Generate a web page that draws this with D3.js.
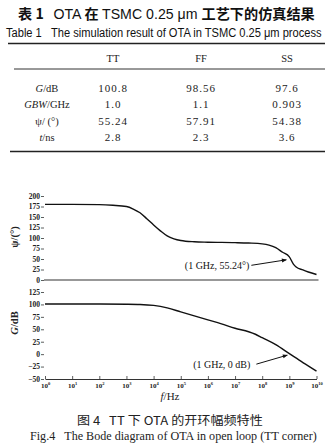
<!DOCTYPE html>
<html><head><meta charset="utf-8">
<script src="https://cdn.jsdelivr.net/npm/d3@7"></script>
<style>body{margin:0;background:#fff}svg{display:block}</style>
</head><body><svg id="c" width="330" height="444"></svg>
<script>
// ---------- data ----------
const tableColumns = ["TT", "FF", "SS"];
const rowGain = ["100.8", "98.56", "97.6"];
const rowGBW = ["1.0", "1.1", "0.903"];
const rowPhase = ["55.24", "57.91", "54.38"];
const rowTime = ["2.8", "2.3", "3.6"];

const phaseFreq = [1e0, 1e1, 1e2, 3.16e2, 1e3, 1.78e3, 3.16e3, 5.62e3, 1e4, 1.78e4, 3.16e4, 5.62e4, 1e5, 3.16e5, 1e6, 1e7, 3.16e7, 1e8, 1.78e8, 3.16e8, 5.62e8, 1e9, 1.41e9, 1.78e9, 3.16e9, 5.01e9, 1e10];
const phaseDeg  = [180, 180, 179.5, 178, 175, 169, 160, 146, 131, 117, 105, 98, 94, 91, 90, 89, 88, 86, 83, 77, 66, 55.24, 38, 31, 24, 19, 13];

const gainFreq = [1e0, 1e1, 1e2, 1e3, 3.16e3, 1e4, 3.16e4, 1e5, 3.16e5, 1e6, 3.16e6, 1e7, 3.16e7, 5.62e7, 1e8, 3.16e8, 1e9, 3.16e9, 1e10];
const gainDb   = [100.8, 100.8, 100.8, 100.5, 100, 98, 93, 85, 77, 69, 61, 52, 45, 40, 33, 19, 1, -17, -34];

const freqTicks = [1e0, 1e1, 1e2, 1e3, 1e4, 1e5, 1e6, 1e7, 1e8, 1e9, 1e10];
const phaseTicks = [0, 25, 50, 75, 100, 125, 150, 175, 200];
const gainTicks = [-50, -25, 0, 25, 50, 75, 100, 125];

const phaseNote = {f: 1e9, v: 55.24, label: "(1 GHz, 55.24°)"};
const gainNote = {f: 1e9, v: 0, label: "(1 GHz, 0 dB)"};

// ---------- drawing ----------
const svg = d3.select("#c");
const serif = "'Liberation Serif','DejaVu Serif',serif";
const sans = "'Liberation Sans Narrow','Liberation Sans',Arial,sans-serif";
const cjk = "'Noto Sans CJK SC',sans-serif";

// squeeze/stretch a text horizontally so it spans [x0, x0+w]
function fitText(sel, x0, w) {
  const nat = sel.node().getComputedTextLength();
  const k = nat > 0 ? w / nat : 1;
  sel.attr("x", 0).attr("transform", `translate(${x0},0) scale(${k},1)`);
}

// Title lines
const t1 = svg.append("text").attr("y", 19).attr("font-size", 14)
  .attr("font-weight", "bold").attr("fill", "#111");
t1.append("tspan").attr("font-family", cjk).text("表 1\u00a0\u00a0\u00a0");
t1.append("tspan").attr("font-family", sans).attr("font-weight", "normal").text("OTA ");
t1.append("tspan").attr("font-family", cjk).text("在 ");
t1.append("tspan").attr("font-family", sans).attr("font-weight", "normal").text("TSMC 0.25 μm ");
t1.append("tspan").attr("font-family", cjk).text("工艺下的仿真结果");
fitText(t1, 18, 297);

const t2 = svg.append("text").attr("y", 37).attr("font-size", 12)
  .attr("font-family", sans).attr("fill", "#111")
  .text("Table 1\u00a0\u00a0\u00a0The simulation result of OTA in TSMC 0.25 μm process");
fitText(t2, 6, 316);

// Table rules
svg.append("line").attr("x1", 8).attr("x2", 325).attr("y1", 43.5).attr("y2", 43.5).attr("stroke", "#222").attr("stroke-width", 1.6);
svg.append("line").attr("x1", 14).attr("x2", 325).attr("y1", 69).attr("y2", 69).attr("stroke", "#333").attr("stroke-width", 1);
svg.append("line").attr("x1", 10).attr("x2", 325).attr("y1", 151.5).attr("y2", 151.5).attr("stroke", "#222").attr("stroke-width", 1.6);

const colX = [113, 201, 287];
const labelX = 47;
svg.selectAll("text.hdr").data(tableColumns).join("text").attr("class", "hdr")
  .attr("x", (d, i) => colX[i]).attr("y", 62).attr("text-anchor", "middle")
  .attr("font-family", serif).attr("font-size", 10.5).attr("fill", "#222").text(d => d);

const rows = [
  {label: [["G", true], ["/dB", false]], vals: rowGain},
  {label: [["GBW", true], ["/GHz", false]], vals: rowGBW},
  {label: [["ψ/ (°)", false]], vals: rowPhase},
  {label: [["t", true], ["/ns", false]], vals: rowTime}
];
const rowY = [91.5, 108, 124.5, 141];
rows.forEach((r, ri) => {
  const lt = svg.append("text").attr("x", labelX).attr("y", rowY[ri]).attr("text-anchor", "middle")
    .attr("font-family", serif).attr("font-size", 10.5).attr("fill", "#222");
  r.label.forEach(([s, it]) => lt.append("tspan").attr("font-style", it ? "italic" : "normal").text(s));
  r.vals.forEach((v, ci) => {
    svg.append("text").attr("x", colX[ci]).attr("y", rowY[ri]).attr("text-anchor", "middle")
      .attr("font-family", serif).attr("font-size", 11).attr("letter-spacing", 1).attr("fill", "#222").text(v);
  });
});

// Scales
const x = d3.scaleLog().domain([1, 1e10]).range([45, 316.5]);
const yP = d3.scaleLinear().domain([0, 200]).range([280, 196]);
const yG = d3.scaleLinear().domain([-50, 125]).range([379, 292]);

function styleAxis(g) {
  g.select(".domain").remove();
  g.selectAll(".tick line").attr("stroke", "#333").attr("stroke-width", 0.8);
  g.selectAll(".tick text").attr("font-family", serif).attr("font-size", 7.5).attr("font-weight", "bold").attr("fill", "#222");
}

// Phase y axis
svg.append("g").attr("transform", `translate(${x(1) - 1},0)`)
  .call(d3.axisLeft(yP).tickValues(phaseTicks).tickSize(3).tickSizeOuter(0).tickPadding(1).tickFormat(d3.format("d")))
  .call(styleAxis);
// Phase baseline (0 line)
svg.append("line").attr("x1", x(1) - 1).attr("x2", x(1e10) + 2).attr("y1", yP(0)).attr("y2", yP(0))
  .attr("stroke", "#333").attr("stroke-width", 1.2);

// Gain y axis
svg.append("g").attr("transform", `translate(${x(1) - 1},0)`)
  .call(d3.axisLeft(yG).tickValues(gainTicks).tickSize(3).tickSizeOuter(0).tickPadding(1).tickFormat(d3.format("d")))
  .call(styleAxis);

// Frequency axis
const xa = svg.append("g").attr("transform", `translate(0,${yG(-50)})`)
  .call(d3.axisBottom(x).tickValues(freqTicks).tickSize(-3).tickSizeOuter(0).tickPadding(4).tickFormat(() => ""));
xa.select(".domain").attr("stroke", "#333").attr("stroke-width", 1);
xa.selectAll(".tick line").attr("stroke", "#333").attr("stroke-width", 0.8);
xa.selectAll(".tick text").each(function(d) {
  const t = d3.select(this).attr("font-family", serif).attr("font-size", 7).attr("font-weight", "bold").attr("fill", "#222");
  t.append("tspan").text("10");
  t.append("tspan").attr("font-size", 4.5).attr("dy", -3).text(Math.round(Math.log10(d)));
});

// Curves
const linePhase = d3.line().x((d, i) => x(phaseFreq[i])).y(d => yP(d)).curve(d3.curveMonotoneX);
svg.append("path").attr("d", linePhase(phaseDeg)).attr("fill", "none").attr("stroke", "#111").attr("stroke-width", 1.4);
const lineGain = d3.line().x((d, i) => x(gainFreq[i])).y(d => yG(d)).curve(d3.curveMonotoneX);
svg.append("path").attr("d", lineGain(gainDb)).attr("fill", "none").attr("stroke", "#111").attr("stroke-width", 1.4);

// Axis titles
const pl = svg.append("text").attr("transform", "translate(18,237) rotate(-90)").attr("text-anchor", "middle")
  .attr("font-family", serif).attr("font-size", 10.5).attr("font-weight", "bold").attr("fill", "#222");
pl.append("tspan").text("ψ/(°)");
const gl = svg.append("text").attr("transform", "translate(18,323) rotate(-90)").attr("text-anchor", "middle")
  .attr("font-family", serif).attr("font-size", 10.5).attr("font-weight", "bold").attr("fill", "#222");
gl.append("tspan").attr("font-style", "italic").text("G");
gl.append("tspan").text("/dB");
const fl = svg.append("text").attr("x", 170).attr("y", 400).attr("text-anchor", "middle")
  .attr("font-family", serif).attr("font-size", 11).attr("fill", "#222");
fl.append("tspan").attr("font-style", "italic").text("f");
fl.append("tspan").text("/Hz");

// Annotations
svg.append("defs").append("marker").attr("id", "ah").attr("viewBox", "0 0 10 10")
  .attr("refX", 9).attr("refY", 5).attr("markerWidth", 6).attr("markerHeight", 5).attr("orient", "auto")
  .append("path").attr("d", "M0,1 L10,5 L0,9 Z").attr("fill", "#111");

function annotate(note, yScale, tip, tail, txtOff) {
  const px = x(note.f), py = yScale(note.v);
  svg.append("line").attr("x1", px + tail[0]).attr("y1", py + tail[1]).attr("x2", px + tip[0]).attr("y2", py + tip[1])
    .attr("stroke", "#111").attr("stroke-width", 1).attr("marker-end", "url(#ah)");
  svg.append("text").attr("x", px + tail[0] + txtOff[0]).attr("y", py + tail[1] + txtOff[1]).attr("text-anchor", "end")
    .attr("font-family", serif).attr("font-size", 10).attr("fill", "#111").text(note.label);
}
annotate(phaseNote, yP, [-3, 3], [-38, 8.5], [-2, 4]);
annotate(gainNote, yG, [-2, 1], [-33, 10], [-6, 4]);

// Caption
const c1 = svg.append("text").attr("y", 425).attr("font-family", cjk).attr("font-size", 12).attr("fill", "#222")
  .text("图 4\u00a0\u00a0\u00a0TT 下 OTA 的开环幅频特性");
fitText(c1, 77, 186);
const c2 = svg.append("text").attr("y", 440).attr("font-family", serif).attr("font-size", 11.5).attr("fill", "#222")
  .text("Fig.4\u00a0\u00a0\u00a0The Bode diagram of OTA in open loop (TT corner)");
fitText(c2, 30, 287);
</script></body></html>
